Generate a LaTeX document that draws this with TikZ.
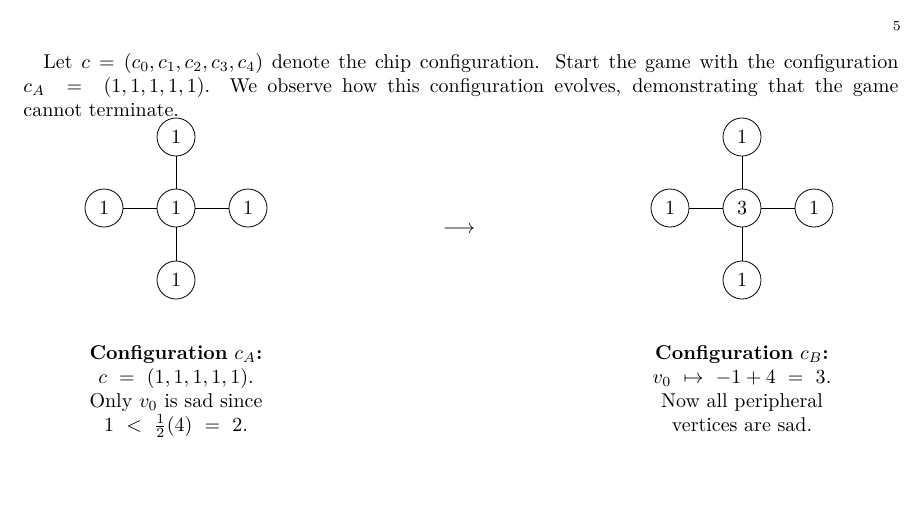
\documentclass[tikz,border=0pt]{standalone}
\usepackage{amsmath}
\begin{document}
\begin{tikzpicture}[x=0.5pt,y=-0.5pt,
  vtx/.style={circle,draw,minimum size=19pt,inner sep=0pt,font=\normalsize},
  edge/.style={draw,line width=0.5pt},
  captext/.style={align=center,font=\normalsize}]
\useasboundingbox (0,0) rectangle (919,505);
\node[anchor=base east] (pg) at (908,30) {\scriptsize 5};
\node[anchor=north west,text width=437.5pt,align=justify,inner sep=0pt] (par) at (23,53)
 {\hspace*{1em}Let $c=(c_0,c_1,c_2,c_3,c_4)$ denote the chip configuration. Start the game with the configuration\linebreak $c_A\ =\ (1,1,1,1,1)$. We observe how this configuration evolves, demonstrating that the game\linebreak cannot terminate.};
% left graph
\node[vtx] (a0) at (176,208) {1};
\node[vtx] (a1) at (176,137) {1};
\node[vtx] (a2) at (104,208) {1};
\node[vtx] (a3) at (248,208) {1};
\node[vtx] (a4) at (176,280) {1};
\foreach \n in {a1,a2,a3,a4} \draw[edge] (a0) -- (\n);
% right graph
\node[vtx] (b0) at (742,208) {3};
\node[vtx] (b1) at (742,137) {1};
\node[vtx] (b2) at (670,208) {1};
\node[vtx] (b3) at (814,208) {1};
\node[vtx] (b4) at (742,280) {1};
\foreach \n in {b1,b2,b3,b4} \draw[edge] (b0) -- (\n);
\node (arr) at (459,230) {$\longrightarrow$};
\node[captext,anchor=north] (ca) at (176,338) {\textbf{Configuration} $c_A$\textbf{:}\\ $c\ =\ (1,1,1,1,1)$.\\ Only $v_0$ is sad since\\ $1\ <\ \tfrac12(4)\ =\ 2$.};
\node[captext,anchor=north] (cb) at (742,338) {\textbf{Configuration} $c_B$\textbf{:}\\ $v_0\ \mapsto\ -1+4\ =\ 3$.\\ Now all peripheral\\ vertices are sad.};
\end{tikzpicture}
\end{document}
